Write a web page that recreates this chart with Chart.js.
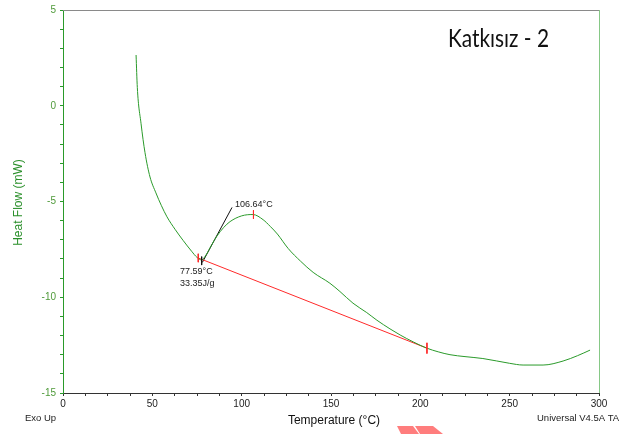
<!DOCTYPE html>
<html>
<head>
<meta charset="utf-8">
<script src="https://cdn.jsdelivr.net/npm/chart.js@4.4.0/dist/chart.umd.min.js"></script>
<style>
  html, body { margin: 0; padding: 0; background: #fff; }
  #wrap { width: 619px; height: 434px; position: relative; }
</style>
</head>
<body>
<div id="wrap"><canvas id="dsc"></canvas></div>
<script>
// DSC curve (temperature in °C, heat flow in mW)
let tempC = [40.9, 41.6, 43.7, 45.9, 48.7, 52, 55, 58.2, 62.7, 67.2, 72, 75, 77.5, 80, 83, 86.2, 90, 93.5, 100, 106.3, 112, 116, 120, 126, 133, 140, 149.4, 155, 162.3, 170, 175.7, 183, 188.7, 196, 203.7, 210, 216.6, 225, 235, 250, 257.5, 268.7, 279.9, 288, 295];
let heatFlow = [2.65, 0.95, -0.94, -2.45, -3.72, -4.55, -5.2, -5.8, -6.45, -7.03, -7.6, -7.92, -8.05, -7.8, -7.3, -6.8, -6.35, -6.05, -5.75, -5.68, -5.95, -6.3, -6.7, -7.45, -8.12, -8.7, -9.27, -9.7, -10.31, -10.8, -11.2, -11.65, -11.97, -12.33, -12.66, -12.85, -13.0, -13.1, -13.2, -13.45, -13.54, -13.54, -13.33, -13.05, -12.76];

// integration baseline and tangent
let baseX = [75.7, 203.7];
let baseY = [-7.95, -12.66];
let tangentX = [78, 94.6];
let tangentY = [-8.18, -5.31];

// small markers: onset, peak, end (red) and onset (black)
let markX = [75.7, 106.6, 203.7];
let markY = [-7.95, -5.68, -12.66];
let markHalf = [0.22, 0.22, 0.28];
let onsetX = 77.6;
let onsetY = -8.1;

// annotation labels
let noteText = ["106.64°C", "77.59°C", "33.35J/g"];
let noteX = [96.3, 65.5, 65.5];
let noteY = [-5.16, -8.65, -9.27];

let toPts = (xs, ys) => xs.map((x, i) => ({x: x, y: ys[i]}));

// short vertical tick marks built from the marker arrays, drawn above the curve
let markSets = markX.map((x, i) => ({
  data: [{x: x, y: markY[i] + markHalf[i]}, {x: x, y: markY[i] - markHalf[i]}],
  borderColor: "#ff2a2a", borderWidth: 1, pointRadius: 0, showLine: true, order: -1
}));
markSets.push({
  data: [{x: onsetX, y: onsetY + 0.22}, {x: onsetX, y: onsetY - 0.22}],
  borderColor: "#111", borderWidth: 1, pointRadius: 0, showLine: true, order: -1
});

let extras = {
  id: "extras",
  afterDraw(chart) {
    let ctx = chart.ctx, a = chart.chartArea;
    let sx = chart.scales.x, sy = chart.scales.y;
    ctx.save();
    // top and right frame
    ctx.lineWidth = 1;
    ctx.strokeStyle = "#8a8a8a";
    ctx.beginPath(); ctx.moveTo(a.left, a.top + 0.5); ctx.lineTo(a.right, a.top + 0.5); ctx.stroke();
    ctx.strokeStyle = "#86c886";
    ctx.beginPath(); ctx.moveTo(a.right + 0.5, a.top); ctx.lineTo(a.right + 0.5, a.bottom); ctx.stroke();

    // annotation text
    ctx.fillStyle = "#222";
    ctx.font = "9px 'Liberation Sans', Arial, sans-serif";
    ctx.textBaseline = "middle";
    ctx.textAlign = "left";
    noteText.forEach((t, i) => ctx.fillText(t, sx.getPixelForValue(noteX[i]), sy.getPixelForValue(noteY[i])));

    // axis titles
    ctx.fillStyle = "#111";
    ctx.font = "12px 'Liberation Sans', Arial, sans-serif";
    ctx.textAlign = "center";
    ctx.fillText("Temperature (°C)", (a.left + a.right) / 2 + 3, 421);
    ctx.save();
    ctx.translate(19, (a.top + a.bottom) / 2 + 1);
    ctx.rotate(-Math.PI / 2);
    ctx.fillStyle = "#2a8f2a";
    ctx.fillText("Heat Flow (mW)", 0, 0);
    ctx.restore();

    // footer texts
    ctx.fillStyle = "#222";
    ctx.font = "9.5px 'Liberation Sans', Arial, sans-serif";
    ctx.textAlign = "left";
    ctx.fillText("Exo Up", 25, 418);
    ctx.fillText("Universal V4.5A TA Instruments", 537, 418);

    // sample name
    ctx.fillStyle = "#111";
    ctx.font = "25px Lato, 'Open Sans', sans-serif";
    ctx.textBaseline = "alphabetic";
    ctx.fillText("Katkısız - 2", 448, 47, 101);

    // pink slide decoration at the bottom edge
    ctx.fillStyle = "#ff7d7d";
    ctx.beginPath();
    ctx.moveTo(397, 426); ctx.lineTo(413, 426); ctx.lineTo(419, 434); ctx.lineTo(401, 434);
    ctx.closePath(); ctx.fill();
    ctx.beginPath();
    ctx.moveTo(415, 426); ctx.lineTo(433, 426); ctx.lineTo(443, 434); ctx.lineTo(420, 434);
    ctx.closePath(); ctx.fill();
    ctx.restore();
  }
};

let dscChart = new Chart("dsc", {
  type: "scatter",
  data: {
    datasets: [
      {
        label: "Heat Flow",
        data: toPts(tempC, heatFlow),
        borderColor: "#2a9a2a",
        borderWidth: 1,
        pointRadius: 0,
        showLine: true,
        cubicInterpolationMode: "monotone"
      },
      {
        data: toPts(baseX, baseY),
        borderColor: "#ff2a2a", borderWidth: 1, pointRadius: 0, showLine: true
      },
      {
        data: toPts(tangentX, tangentY),
        borderColor: "#111", borderWidth: 1, pointRadius: 0, showLine: true
      },
      ...markSets
    ]
  },
  options: {
    responsive: true,
    maintainAspectRatio: false,
    animation: false,
    layout: { padding: { left: 0, top: 9, right: 20, bottom: 0 } },
    plugins: { legend: { display: false }, tooltip: { enabled: false } },
    scales: {
      x: {
        type: "linear",
        min: 0, max: 300,
        afterFit: (s) => { s.height = 41; },
        border: { color: "#333", width: 1 },
        grid: { drawOnChartArea: false, drawTicks: true, tickLength: 3, color: "#333" },
        ticks: {
          stepSize: 12.5, autoSkip: false, maxRotation: 0, padding: 2,
          color: "#222",
          font: { size: 10, family: "'Liberation Sans', Arial, sans-serif" },
          callback: (v) => (v % 50 === 0 ? v : "")
        }
      },
      y: {
        type: "linear",
        min: -15, max: 5,
        afterFit: (s) => { s.width = 63; },
        border: { color: "#2a9a2a", width: 1 },
        grid: { drawOnChartArea: false, drawTicks: true, tickLength: 3, color: "#2a9a2a" },
        ticks: {
          stepSize: 1, autoSkip: false, padding: 4,
          color: "#4f9a3a",
          font: { size: 10, family: "'Liberation Sans', Arial, sans-serif" },
          callback: (v) => (v % 5 === 0 ? v : "")
        }
      }
    }
  },
  plugins: [extras]
});
</script>
</body>
</html>
